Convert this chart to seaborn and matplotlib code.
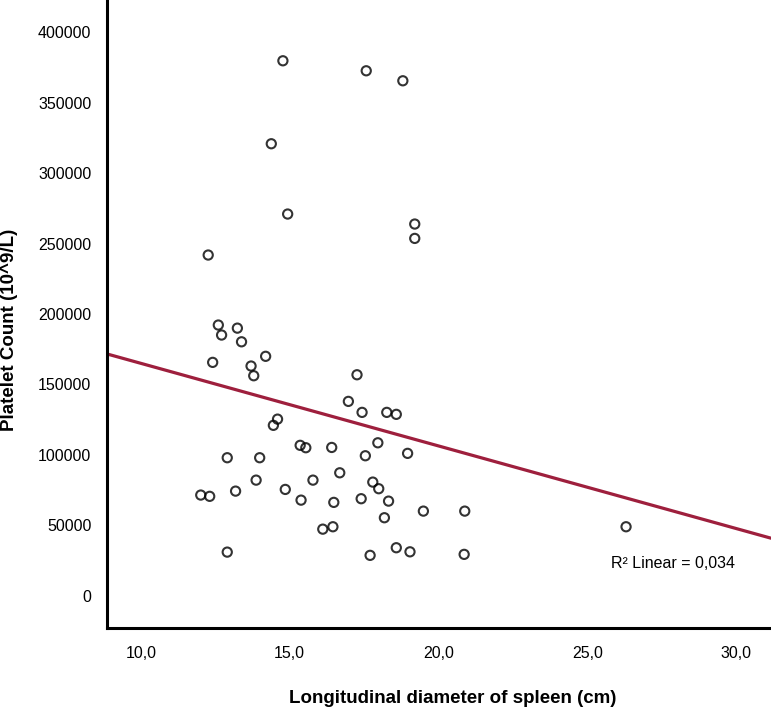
import numpy as np
import pandas as pd
import matplotlib
matplotlib.use("Agg")
import matplotlib.pyplot as plt
import seaborn as sns

# spleen diameter (cm) and platelet count
spleen_cm = [
    14.77, 17.57, 18.80, 14.38, 14.93, 19.20, 19.20, 12.26,
    12.60, 12.71, 13.24, 13.38, 12.41, 14.19, 13.70, 13.79,
    17.26, 16.97, 17.43, 18.26, 18.58, 14.59, 14.45, 15.35,
    15.54, 16.41, 17.96, 17.54, 18.96, 12.90, 13.99, 16.68,
    13.87, 14.85, 15.78, 17.79, 17.99, 13.18, 12.01, 12.31,
    15.38, 16.48, 17.40, 18.32, 19.49, 20.88, 18.18, 16.11,
    16.45, 12.90, 17.70, 18.58, 19.04, 20.86, 26.30,
]
platelets = [
    379800, 372700, 365600, 320900, 271000, 263900, 253700, 241900,
    192200, 185100, 190000, 180300, 165700, 170000, 163100, 156200,
    156900, 138000, 130200, 130200, 128800, 125400, 121000, 106800,
    105100, 105300, 108600, 99400, 101100, 98000, 98000, 87300,
    82100, 75500, 82100, 80700, 76000, 74300, 71500, 70600,
    67900, 66300, 68900, 67200, 60100, 60100, 55400, 47300,
    49000, 31000, 28700, 34100, 31200, 29400, 49000,
]
x_ticks = [10, 15, 20, 25, 30]
y_ticks = [0, 50000, 100000, 150000, 200000, 250000, 300000, 350000, 400000]
r2_label = "R\u00b2 Linear = 0,034"

df = pd.DataFrame({"spleen": spleen_cm, "platelets": platelets})

sns.set_style("white", {"text.color": "black", "axes.labelcolor": "black"})
plt.rcParams["font.family"] = ["Liberation Sans", "DejaVu Sans"]

fig = plt.figure(figsize=(7.71, 7.09), dpi=100)
ax = fig.add_axes([0.1384, 0.1142, 0.8616, 0.8857])
ax.set_xlim(8.85, 31.17)
ax.set_ylim(-22900, 422900)

sns.regplot(
    data=df,
    x="spleen",
    y="platelets",
    ci=None,
    truncate=False,
    ax=ax,
    scatter_kws=dict(s=44, facecolors="none", edgecolors="black", linewidths=1.5),
    line_kws=dict(color="#9e1f3d", lw=2.3),
)

ax.set_xticks(x_ticks)
ax.set_xticklabels([f"{v:.1f}".replace(".", ",") for v in x_ticks])
ax.set_yticks(y_ticks)
ax.set_yticklabels([str(v) for v in y_ticks])
ax.tick_params(axis="both", direction="out", length=6, width=1.2,
               colors="black", labelsize=11.5, pad=5)
ax.tick_params(axis="x", pad=7)

for side in ["top", "right"]:
    ax.spines[side].set_visible(False)
for side in ["left", "bottom"]:
    ax.spines[side].set_linewidth(2.2)
    ax.spines[side].set_color("black")

ax.set_xlabel("Longitudinal diameter of spleen (cm)", fontsize=13.5,
              fontweight="bold", va="center", color="black")
ax.set_ylabel("Platelet Count (10^9/L)", fontsize=13.5,
              fontweight="bold", va="center", color="black")
ax.xaxis.set_label_coords(0.521, -0.113)
ax.yaxis.set_label_coords(-0.147, 0.4745)

ax.text(25.79, 23200, r2_label, fontsize=11.5, va="center", ha="left",
        color="black")

fig.savefig("out.png", dpi=100)
